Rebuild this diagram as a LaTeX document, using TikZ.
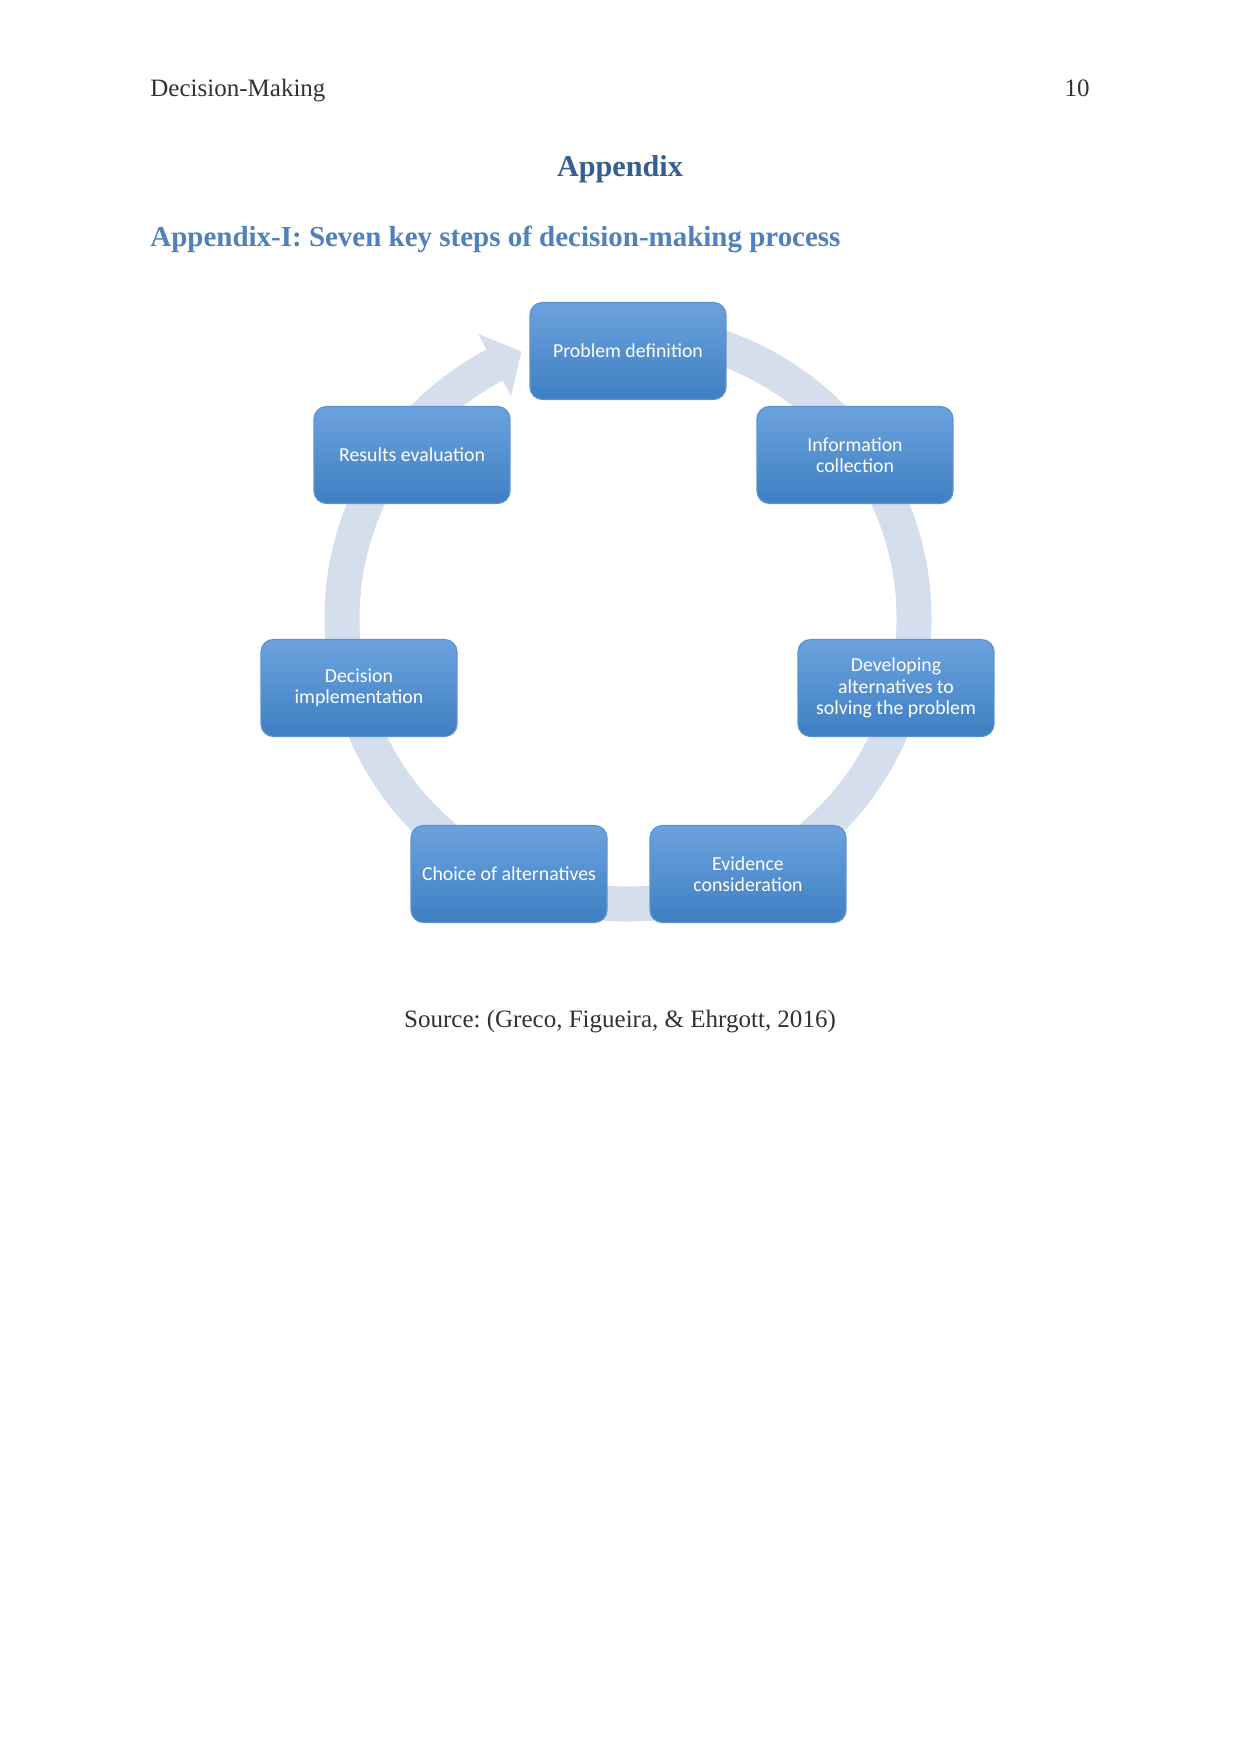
\documentclass[tikz,border=0pt]{standalone}
\usepackage{fontspec}
\setmainfont{Liberation Serif}
\newfontfamily\boxfont{Carlito}
\usetikzlibrary{calc}
\definecolor{ringc}{RGB}{213,222,237}
\definecolor{boxtop}{RGB}{108,162,222}
\definecolor{boxbot}{RGB}{62,127,194}
\definecolor{boxedge}{RGB}{92,146,208}
\definecolor{titleblue}{RGB}{54,95,145}
\definecolor{subblue}{RGB}{79,129,189}
\definecolor{bodytext}{RGB}{50,50,50}
\frenchspacing
\begin{document}
\begin{tikzpicture}[x=0.4797pt,y=-0.4797pt,
  stepbox/.style={rectangle, rounded corners=6pt, minimum width=94pt, minimum height=46.5pt,
    inner sep=2pt, align=center, text=white, font=\boxfont\fontsize{9.5}{10.3}\selectfont,
    top color=boxtop, bottom color=boxbot, draw=boxedge, line width=0.6pt},
  ring/.style={draw=ringc, line width=16.8pt},
  header/.style={font=\fontsize{12}{14}\selectfont, text=bodytext, inner sep=0pt}]
\fill[white] (0,0) rectangle (1241,1754);
\useasboundingbox (0,0) rectangle (1241,1754);

% header
\node[header, anchor=base west] (hdr) at (150,97) {Decision-Making};
\node[header, anchor=base east] (pg) at (1090,97) {10};

% titles
\node[anchor=base, inner sep=0pt, text=titleblue, font=\bfseries\fontsize{14.5}{17}\selectfont] (title) at (620,176) {Appendix};
\node[anchor=base west, inner sep=0pt, text=subblue, font=\bfseries\fontsize{13.9}{17}\selectfont] (sub) at (150,246) {Appendix-I: Seven key steps of decision-making process};

% cycle ring
\coordinate (c) at (628,618);
\draw[ring] ($(c)+(-95:286)$) arc[start angle=-95, end angle=242.2, radius=286];
\fill[ringc] ($(c)+(-117.8:321)$) -- ($(c)+(-111.8:287)$) -- ($(c)+(-117.8:251)$) -- cycle;

% steps
\node[stepbox] (pd) at (628,351) {Problem definition};
\node[stepbox] (ic) at (855,455) {Information\\collection};
\node[stepbox] (da) at (896,688) {Developing\\alternatives to\\solving the problem};
\node[stepbox] (ec) at (748,874) {Evidence\\consideration};
\node[stepbox] (ca) at (509,874) {Choice of alternatives};
\node[stepbox] (di) at (359,688) {Decision\\implementation};
\node[stepbox] (re) at (412,455) {Results evaluation};

% source
\node[header, anchor=base] (src) at (620,1027) {Source: (Greco, Figueira, \& Ehrgott, 2016)};
\end{tikzpicture}
\end{document}
